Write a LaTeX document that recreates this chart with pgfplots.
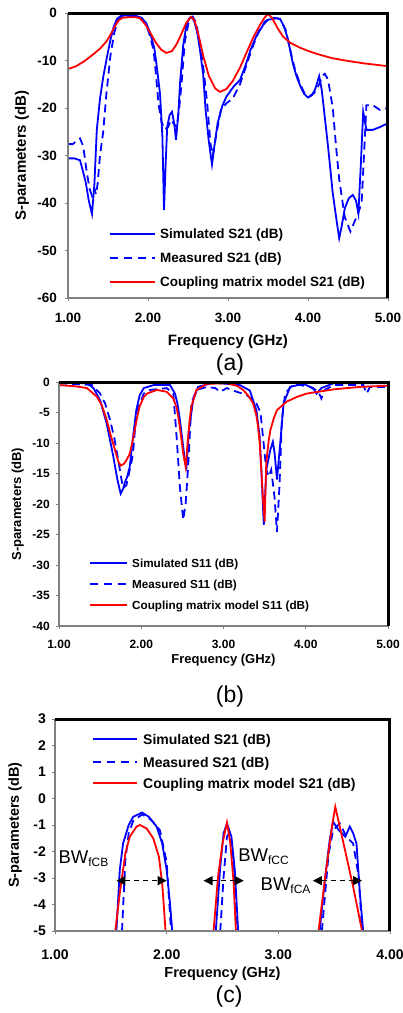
\documentclass[border=0pt]{standalone}
\usepackage{pgfplots}
\pgfplotsset{compat=1.18}
\usepackage{fontspec}
\setmainfont{Liberation Sans}
\usetikzlibrary{arrows.meta}
\newcommand\fs[1]{\fontsize{#1}{#1}\selectfont}
\definecolor{axgray}{RGB}{128,128,128}
\pgfplotsset{
  base/.style={
    scale only axis, anchor=south west,
    axis line style={draw=none},
    tick align=outside, major tick length=3pt,
    tick style={axgray, line width=0.8pt},
    xtick pos=bottom, ytick pos=left,
    clip=true, unbounded coords=jump,
    xticklabel style={anchor=north, inner sep=0pt},
    yticklabel style={anchor=east, inner sep=0pt},
    label style={anchor=center},
    after end axis/.code={
      \draw[axgray, line width=2.2pt] (rel axis cs:0,1) -- (rel axis cs:0,0) -- (rel axis cs:1,0);
      \draw[black, line width=3pt] (rel axis cs:0,1) -- (rel axis cs:1,1) -- (rel axis cs:1,0);
    },
  },
  sim/.style={blue, line width=1.8pt, solid},
  meas/.style={blue, line width=1.8pt, dash pattern=on 8pt off 5pt},
  cm/.style={red, line width=1.8pt, solid},
}
\tikzset{
  lsim/.style={draw=blue, line width=1.6pt},
  lmeas/.style={draw=blue, line width=1.6pt, dash pattern=on 8pt off 6pt},
  lcm/.style={draw=red, line width=1.6pt},
}
% legend row: #1 style, #2 x (desc), #3 y (desc), #4 line length, #5 text x (desc), #6 font, #7 baseline shift, #8 text
\newcommand\legrow[8]{%
  \draw[#1] (axis description cs:#2,#3) -- ++(#4,0pt);
  \node[anchor=base west, inner sep=0pt, font=#6, yshift=#7] at (axis description cs:#5,#3) {#8};
}
\begin{document}
\begin{tikzpicture}
\path[use as bounding box] (0,0) rectangle (402pt,-1013pt);

% ---------------- (a)
\begin{axis}[base, at={(68pt,-298pt)}, width=320pt, height=285pt,
  xmin=1, xmax=5, ymin=-60, ymax=0,
  xtick={1,2,3,4,5}, xticklabels={1.00,2.00,3.00,4.00,5.00},
  ytick={-60,-50,-40,-30,-20,-10,0}, yticklabels={-60,-50,-40,-30,-20,-10,0},
  ticklabel style={font=\fs{13.5}\bfseries},
  xticklabel shift=12pt, yticklabel shift=8pt,
  xlabel={Frequency (GHz)}, ylabel={S-parameters (dB)},
  label style={font=\fs{15}\bfseries},
  xlabel style={at={(axis description cs:0.5,-0.152)}},
  ylabel style={at={(axis description cs:-0.144,0.5)}},
]
\addplot[sim] coordinates {(1.00,-30.6) (1.08,-30.6) (1.15,-31.0) (1.19,-33.5) (1.22,-35.5) (1.26,-39.5) (1.30,-42.3) (1.33,-36) (1.36,-24.6) (1.40,-18) (1.44,-13.5) (1.49,-9) (1.53,-5.7) (1.57,-3) (1.61,-1.3) (1.66,-0.6) (1.75,-0.5) (1.85,-0.6) (1.92,-1.0) (1.98,-2.2) (2.03,-4.3) (2.08,-7.5) (2.11,-11.3) (2.15,-17) (2.18,-26) (2.20,-41.5) (2.22,-32) (2.24,-24) (2.27,-21.5) (2.30,-20.8) (2.33,-23.5) (2.35,-26.7) (2.38,-21) (2.40,-14.8) (2.44,-6.8) (2.48,-2.5) (2.52,-1.0) (2.55,-0.8) (2.58,-1.8) (2.62,-4.5) (2.65,-7.8) (2.69,-13) (2.72,-20.4) (2.76,-27) (2.80,-31.9) (2.83,-28) (2.87,-23.2) (2.93,-19.5) (2.98,-17.6) (3.07,-15.5) (3.15,-14.1) (3.22,-11) (3.28,-7.8) (3.35,-5) (3.44,-2.5) (3.50,-1.4) (3.55,-1.3) (3.60,-1.1) (3.65,-1.2) (3.70,-2.8) (3.74,-5) (3.78,-8) (3.81,-10.6) (3.86,-13.5) (3.90,-15.2) (3.95,-17) (4.00,-17.8) (4.05,-17.3) (4.09,-16) (4.14,-13.3) (4.17,-16) (4.20,-20.4) (4.25,-28) (4.31,-38) (4.36,-44) (4.39,-47.4) (4.42,-45) (4.46,-41.1) (4.51,-39) (4.56,-38.3) (4.60,-39.5) (4.63,-42.2) (4.66,-32) (4.69,-20.8) (4.73,-24.6) (4.81,-24.6) (4.90,-24) (5.00,-23.2)};
\addplot[meas] coordinates {(1.00,-27.6) (1.06,-27.6) (1.10,-27.0) (1.15,-26.4) (1.19,-28) (1.23,-33) (1.27,-37) (1.30,-38.5) (1.33,-37) (1.35,-38.2) (1.37,-36) (1.40,-30) (1.44,-25) (1.48,-17) (1.53,-9) (1.58,-4) (1.63,-1.5) (1.68,-0.7) (1.78,-0.6) (1.88,-0.8) (1.96,-2.0) (2.01,-4) (2.07,-7.8) (2.10,-13) (2.13,-19) (2.17,-23) (2.21,-24.5) (2.25,-24) (2.29,-22.5) (2.33,-23.5) (2.36,-24) (2.39,-20) (2.42,-14.8) (2.46,-6) (2.51,-1.8) (2.56,-0.8) (2.60,-2.0) (2.64,-5.5) (2.69,-11.3) (2.74,-19) (2.78,-27.4) (2.81,-30) (2.85,-26) (2.91,-20.4) (2.98,-19) (3.06,-18) (3.15,-15) (3.22,-11.5) (3.30,-7.5) (3.38,-4) (3.46,-1.8) (3.52,-1.2) (3.58,-1.0) (3.65,-1.3) (3.72,-3.5) (3.78,-8) (3.84,-12) (3.90,-15) (3.96,-17) (4.02,-17.5) (4.08,-16.8) (4.14,-15) (4.18,-13.2) (4.21,-12.8) (4.25,-14) (4.28,-17) (4.31,-20) (4.35,-28) (4.39,-35) (4.46,-43) (4.53,-46) (4.58,-44) (4.63,-42) (4.67,-40) (4.70,-30) (4.73,-19.4) (4.81,-19.4) (4.90,-20.4) (5.00,-20)};
\addplot[cm] coordinates {(1.00,-11.8) (1.10,-11.2) (1.20,-10.2) (1.30,-8.9) (1.40,-7.5) (1.48,-6.0) (1.53,-4.6) (1.58,-3.0) (1.63,-1.6) (1.68,-1.0) (1.75,-0.9) (1.85,-0.9) (1.90,-1.1) (1.97,-2.5) (2.03,-4.2) (2.10,-6.3) (2.17,-7.8) (2.23,-8.4) (2.30,-8.0) (2.36,-6.5) (2.42,-4.3) (2.48,-2.0) (2.54,-0.8) (2.58,-1.5) (2.63,-4.5) (2.69,-9.0) (2.76,-13.2) (2.84,-15.9) (2.90,-16.6) (2.98,-16.0) (3.06,-14.3) (3.15,-11.5) (3.24,-8.0) (3.32,-5.0) (3.40,-2.5) (3.46,-0.9) (3.50,-0.2) (3.55,-1.0) (3.62,-3.2) (3.69,-5.0) (3.78,-6.3) (3.90,-7.3) (4.02,-8.1) (4.15,-8.8) (4.30,-9.5) (4.50,-10.1) (4.70,-10.6) (5.00,-11.2)};
\legrow{lsim}{0.131}{0.2246}{45pt}{0.2875}{\fs{13.5}\bfseries}{-4.8pt}{Simulated S21 (dB)}
\legrow{lmeas}{0.131}{0.1404}{45pt}{0.2875}{\fs{13.5}\bfseries}{-4.8pt}{Measured S21 (dB)}
\legrow{lcm}{0.131}{0.0561}{45pt}{0.2875}{\fs{13.5}\bfseries}{-4.8pt}{Coupling matrix model S21 (dB)}
\end{axis}
\node[font=\fs{23}] at (230pt,-365pt) {(a)};

% ---------------- (b)
\begin{axis}[base, at={(59pt,-626pt)}, width=329pt, height=244pt,
  xmin=1, xmax=5, ymin=-40, ymax=0,
  xtick={1,2,3,4,5}, xticklabels={1.00,2.00,3.00,4.00,5.00},
  ytick={-40,-35,-30,-25,-20,-15,-10,-5,0}, yticklabels={-40,-35,-30,-25,-20,-15,-10,-5,0},
  ticklabel style={font=\fs{12}\bfseries},
  xticklabel shift=11pt, yticklabel shift=6pt,
  xlabel={Frequency (GHz)}, ylabel={S-parameters (dB)},
  label style={font=\fs{13}\bfseries},
  xlabel style={at={(axis description cs:0.5,-0.141)}},
  ylabel style={at={(axis description cs:-0.125,0.5)}},
]
\addplot[sim] coordinates {(1.00,-0.1) (1.34,-0.2) (1.42,-1.0) (1.50,-3.0) (1.58,-6.8) (1.66,-12.2) (1.71,-16) (1.75,-18.3) (1.78,-17.5) (1.80,-16.5) (1.83,-15.5) (1.86,-13.9) (1.90,-9.0) (1.94,-4.6) (1.98,-2.2) (2.03,-1.0) (2.15,-0.5) (2.35,-0.5) (2.41,-1.9) (2.44,-3.5) (2.47,-6.2) (2.50,-9.5) (2.53,-12.8) (2.55,-13.9) (2.58,-7.9) (2.63,-3.0) (2.69,-0.8) (2.88,-0.1) (3.20,-0.5) (3.32,-1.4) (3.40,-4.6) (3.44,-9) (3.46,-14.4) (3.49,-23.4) (3.52,-14.4) (3.57,-11.1) (3.60,-9.8) (3.62,-11.5) (3.64,-14.4) (3.65,-16) (3.67,-13) (3.69,-10) (3.73,-3.5) (3.81,-0.8) (3.97,-0.3) (4.09,-1.0) (4.13,-1.9) (4.19,-1.0) (4.34,-0.2) (4.74,-0.2) (5.00,-0.2)};
\addplot[meas] coordinates {(1.00,-0.2) (1.40,-0.5) (1.50,-1.9) (1.56,-3.5) (1.62,-6.2) (1.67,-9) (1.72,-12.8) (1.76,-16) (1.78,-17.4) (1.82,-16.9) (1.86,-14.4) (1.88,-13.2) (1.90,-11.7) (1.94,-5.1) (2.03,-1.9) (2.11,-1.3) (2.31,-1.0) (2.39,-1.9) (2.43,-9.0) (2.47,-17.2) (2.51,-22.6) (2.54,-19.9) (2.57,-13.9) (2.61,-3.5) (2.67,-1.3) (2.80,-0.8) (2.90,-1.0) (2.96,-1.6) (3.04,-1.0) (3.16,-1.6) (3.28,-2.1) (3.40,-3.5) (3.45,-5) (3.48,-9.0) (3.52,-14.4) (3.55,-15.5) (3.58,-14.4) (3.62,-18.8) (3.65,-24.6) (3.68,-17.2) (3.71,-6.2) (3.75,-1.9) (3.85,-0.3) (4.05,-0.8) (4.15,-1.5) (4.19,-2.7) (4.23,-1.3) (4.34,-0.5) (4.70,-0.5) (4.74,-1.9) (4.78,-0.8) (5.00,-0.8)};
\addplot[cm] coordinates {(1.00,-0.5) (1.20,-0.7) (1.34,-1.0) (1.46,-2.4) (1.52,-3.8) (1.58,-6.2) (1.63,-8.8) (1.68,-11.1) (1.72,-13.0) (1.75,-13.7) (1.79,-13.4) (1.82,-12.8) (1.86,-11.8) (1.89,-10.0) (1.92,-7.9) (1.95,-5.8) (1.98,-4.0) (2.03,-2.5) (2.07,-1.9) (2.19,-1.3) (2.31,-1.6) (2.39,-2.7) (2.43,-4.2) (2.46,-6.5) (2.49,-9.5) (2.51,-11.7) (2.54,-13.9) (2.57,-9.0) (2.59,-6.0) (2.61,-4.0) (2.67,-1.3) (2.80,-0.3) (3.04,-0.2) (3.16,-0.6) (3.24,-1.3) (3.31,-2.4) (3.36,-3.5) (3.40,-5.5) (3.42,-7.3) (3.44,-10) (3.46,-14.4) (3.48,-19) (3.50,-22.9) (3.51,-18) (3.52,-13.3) (3.55,-9.5) (3.57,-7.9) (3.61,-6.0) (3.65,-4.6) (3.77,-3.2) (3.90,-2.4) (4.01,-1.9) (4.34,-1.2) (4.66,-0.8) (5.00,-0.6)};
\legrow{lsim}{0.0942}{0.2582}{37pt}{0.2219}{\fs{11.7}\bfseries}{-4.2pt}{Simulated S11 (dB)}
\legrow{lmeas}{0.0942}{0.1721}{37pt}{0.2219}{\fs{11.7}\bfseries}{-4.2pt}{Measured S11 (dB)}
\legrow{lcm}{0.0942}{0.0861}{37pt}{0.2219}{\fs{11.7}\bfseries}{-4.2pt}{Coupling matrix model S11 (dB)}
\end{axis}
\node[font=\fs{23}] at (230pt,-697pt) {(b)};

% ---------------- (c)
\begin{axis}[base, at={(55pt,-931pt)}, width=335pt, height=212pt,
  xmin=1, xmax=4, ymin=-5, ymax=3,
  xtick={1,2,3,4}, xticklabels={1.00,2.00,3.00,4.00},
  ytick={-5,-4,-3,-2,-1,0,1,2,3}, yticklabels={-5,-4,-3,-2,-1,0,1,2,3},
  ticklabel style={font=\fs{14}\bfseries},
  xticklabel shift=16pt, yticklabel shift=6pt,
  xlabel={Frequency (GHz)}, ylabel={S-parameters (dB)},
  label style={font=\fs{14.5}\bfseries},
  xlabel style={at={(axis description cs:0.5,-0.2)}},
  ylabel style={at={(axis description cs:-0.119,0.5)}},
]
\addplot[sim] coordinates {(1.55,-5) (1.58,-2.7) (1.61,-1.69) (1.66,-1.0) (1.70,-0.69) (1.78,-0.53) (1.84,-0.69) (1.91,-1.06) (1.96,-1.69) (2.00,-2.7) (2.03,-3.96) (2.05,-5) (2.2,nan) (2.44,-5) (2.48,-2.57) (2.51,-1.31) (2.54,-0.94) (2.58,-1.44) (2.61,-2.7) (2.63,-4.2) (2.64,-5) (3.0,nan) (3.37,-5) (3.42,-2.95) (3.46,-1.57) (3.49,-0.87) (3.54,-1.19) (3.60,-1.44) (3.64,-1.06) (3.67,-1.31) (3.70,-1.7) (3.73,-3.58) (3.76,-5)};
\addplot[meas] coordinates {(1.60,-5) (1.63,-2.32) (1.66,-1.31) (1.70,-0.85) (1.78,-0.6) (1.86,-0.8) (1.94,-1.2) (2.00,-2.4) (2.03,-4.4) (2.04,-5) (2.2,nan) (2.48,-5) (2.51,-2.95) (2.54,-1.44) (2.56,-1.31) (2.60,-2.32) (2.62,-3.96) (2.63,-5) (3.0,nan) (3.39,-5) (3.45,-2.1) (3.49,-1.2) (3.55,-0.94) (3.61,-1.44) (3.67,-1.7) (3.72,-2.95) (3.75,-5)};
\addplot[cm] coordinates {(1.54,-5) (1.58,-3.58) (1.63,-2.07) (1.67,-1.44) (1.73,-1.06) (1.76,-1.0) (1.82,-1.13) (1.88,-1.5) (1.93,-2.19) (1.96,-3.2) (1.99,-5) (2.2,nan) (2.42,-5) (2.46,-2.95) (2.50,-1.69) (2.54,-0.91) (2.57,-1.69) (2.60,-3.2) (2.62,-5) (3.0,nan) (3.36,-5) (3.42,-2.95) (3.48,-1.06) (3.51,-0.31) (3.55,-1.06) (3.61,-2.19) (3.67,-3.33) (3.75,-5)};
\addplot[black, line width=1.2pt, dash pattern=on 5pt off 4pt, {Triangle[length=9pt,width=9pt]}-{Triangle[length=9pt,width=9pt]}] coordinates {(1.55,-3.1) (2.00,-3.1)};
\addplot[black, line width=1.2pt, dash pattern=on 5pt off 4pt, {Triangle[length=9pt,width=9pt]}-{Triangle[length=9pt,width=9pt]}] coordinates {(2.33,-3.1) (2.69,-3.1)};
\addplot[black, line width=1.2pt, dash pattern=on 5pt off 4pt, {Triangle[length=9pt,width=9pt]}-{Triangle[length=9pt,width=9pt]}] coordinates {(3.31,-3.1) (3.75,-3.1)};
\legrow{lsim}{0.1134}{0.9057}{44pt}{0.2627}{\fs{14}\bfseries}{-5pt}{Simulated S21 (dB)}
\legrow{lmeas}{0.1134}{0.7972}{44pt}{0.2627}{\fs{14}\bfseries}{-5pt}{Measured S21 (dB)}
\legrow{lcm}{0.1134}{0.6981}{44pt}{0.2627}{\fs{14}\bfseries}{-5pt}{Coupling matrix model S21 (dB)}
\node[font=\fs{18.5}, anchor=base west, inner sep=0pt] at (axis cs:1.03,-2.45) {BW\textsubscript{\fs{12}fCB}};
\node[font=\fs{18.5}, anchor=base west, inner sep=0pt] at (axis cs:2.64,-2.38) {BW\textsubscript{\fs{12}fCC}};
\node[font=\fs{18.5}, anchor=base west, inner sep=0pt] at (axis cs:2.84,-3.47) {BW\textsubscript{\fs{12}fCA}};
\end{axis}
\node[font=\fs{23}] at (229pt,-997pt) {(c)};
\end{tikzpicture}
\end{document}
